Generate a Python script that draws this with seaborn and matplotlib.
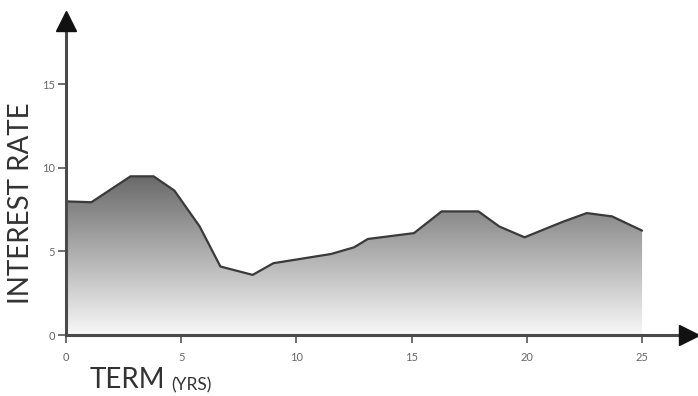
import numpy as np
import seaborn as sns
import matplotlib.pyplot as plt
from matplotlib.colors import LinearSegmentedColormap
from matplotlib.patches import Polygon

# term (years) and interest rate
term = [0, 1.1, 2.8, 3.8, 4.7, 5.8, 6.7, 8.1, 9.0, 11.5, 12.5, 13.1,
        15.1, 16.3, 17.9, 18.8, 19.9, 21.6, 22.6, 23.7, 25]
rate = [8.0, 7.95, 9.5, 9.5, 8.65, 6.5, 4.1, 3.6, 4.3, 4.85, 5.25, 5.75,
        6.1, 7.4, 7.4, 6.5, 5.85, 6.8, 7.3, 7.1, 6.25]
xticks = [0, 5, 10, 15, 20, 25]
yticks = [0, 5, 10, 15]

sns.set_theme(style="white")
plt.rcParams['font.family'] = ['Lato', 'DejaVu Sans']

fig = plt.figure(figsize=(6.98, 3.96), dpi=100)
ax = fig.add_axes([0.0946, 0.154, 0.8926, 0.793])

# vertical gradient fill under the curve
grad = LinearSegmentedColormap.from_list("g", ["#f8f8f8", "#6a6a6a"])
top = max(rate)
img = ax.imshow(np.linspace(0, 1, 256).reshape(-1, 1), cmap=grad, aspect="auto",
                origin="lower", extent=[0, 25, 0, top], zorder=1)
poly = Polygon(list(zip(term, rate)) + [(25, 0), (0, 0)], closed=True,
               transform=ax.transData, facecolor="none", edgecolor="none")
ax.add_patch(poly)
img.set_clip_path(poly)

sns.lineplot(x=term, y=rate, ax=ax, color="#3a3a3a", lw=1.6, zorder=3)

ax.set_xlim(0, 27.04)
ax.set_ylim(0, 18.8)
ax.set_xticks(xticks)
ax.set_yticks(yticks)
ax.tick_params(axis="both", length=6, width=1.2, color="#555555",
               labelsize=8, labelcolor="#666666", left=True, bottom=True)
ax.tick_params(axis="x", pad=6)
ax.tick_params(axis="y", pad=2)

for s in ["top", "right"]:
    ax.spines[s].set_visible(False)
for s in ["left", "bottom"]:
    ax.spines[s].set_color("#4a4a4a")
    ax.spines[s].set_linewidth(2.2)
    ax.spines[s].set_zorder(4)

# arrow heads
ax.plot([0], [1], marker="^", ms=15, color="#111111", transform=ax.transAxes,
        clip_on=False, zorder=5)
ax.plot([1], [0], marker=">", ms=15, color="#111111", transform=ax.transAxes,
        clip_on=False, zorder=5)

ax.set_ylabel("INTEREST RATE", fontsize=20, color="#333333")
ax.yaxis.set_label_coords(-0.052, 0.42)

t = fig.text(90 / 698, 8 / 396, "TERM", fontsize=20, color="#333333", va="baseline")
ax.annotate("(YRS)", xy=(1, 0), xycoords=t, xytext=(4, 0), textcoords="offset points",
            fontsize=12.5, color="#333333", va="bottom", annotation_clip=False)

fig.savefig("out.png", dpi=100)
